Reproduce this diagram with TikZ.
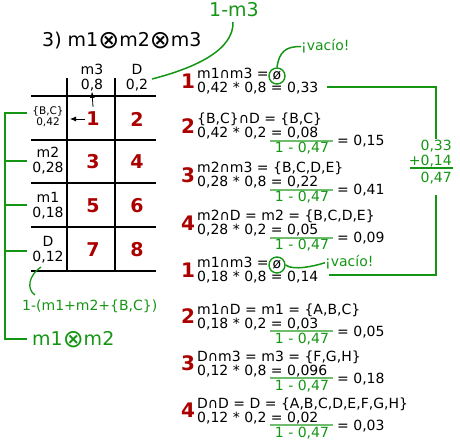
\documentclass[tikz,border=0pt]{standalone}
\usepackage{fontspec}
\setmainfont{DejaVu Sans}
\usetikzlibrary{arrows.meta}
\definecolor{gr}{RGB}{20,150,20}
\definecolor{lgr}{RGB}{110,190,110}
\definecolor{dred}{RGB}{170,0,0}
\newcommand\otbig{\raisebox{-2pt}{\fontsize{25}{25}\selectfont ⊗}}
\tikzset{
 txt/.style={anchor=base west, inner sep=0pt, font=\fontsize{14}{14}\selectfont},
 ctxt/.style={anchor=base, inner sep=0pt, font=\fontsize{14}{14}\selectfont},
 smtxt/.style={anchor=base, inner sep=0pt, font=\fontsize{10.5}{10.5}\selectfont},
 gtxt/.style={anchor=base, inner sep=0pt, text=gr, font=\fontsize{14}{14}\selectfont},
 gbig/.style={anchor=base west, inner sep=0pt, text=gr, font=\fontsize{19}{19}\selectfont},
 big/.style={anchor=base west, inner sep=0pt, font=\fontsize{19}{19}\selectfont},
 rnum/.style={inner sep=0pt, text=dred, font=\fontsize{20}{20}\selectfont\bfseries},
 cnum/.style={inner sep=0pt, text=dred, font=\fontsize{19}{19}\selectfont\bfseries},
 gridline/.style={line width=1.4pt, black},
 gline/.style={gr, line width=1.5pt},
 fracline/.style={lgr, line width=1.3pt},
 ptr/.style={-{Latex[length=6pt,width=5pt]}, line width=0.8pt, black},
 empt/.style={circle, draw=gr, line width=1.4pt, minimum size=16pt, inner sep=0pt, font=\fontsize{14}{14}\selectfont},
}
\begin{document}
\begin{tikzpicture}[x=1pt,y=-1pt]
\useasboundingbox (0,0) rectangle (460,443);
% title
\node[big] (title) at (42,47) {3) m1\otbig m2\otbig m3};
\node[gbig] (onem3) at (209,17) {1-m3};
% table grid
\foreach \yy in {96,140,183,227,271} \draw[gridline] (31,\yy) -- (156,\yy);
\draw[gridline] (67,78) -- (67,271);
\draw[gridline] (115,78) -- (115,271);
% headers
\node[ctxt] (h1) at (92,75) {m3};
\node[ctxt] (h1v) at (92,90) {0,8};
\node[ctxt] (h2) at (137,75) {D};
\node[ctxt] (h2v) at (137,90) {0,2};
% row labels
\node[smtxt] (r1) at (48,115) {\{B,C\}};
\node[smtxt] (r1v) at (48,126) {0,42};
\node[ctxt] (r2) at (48,158) {m2};
\node[ctxt] (r2v) at (48,173) {0,28};
\node[ctxt] (r3) at (48,203) {m1};
\node[ctxt] (r3v) at (48,218) {0,18};
\node[ctxt] (r4) at (48,247) {D};
\node[ctxt] (r4v) at (48,262) {0,12};
% cells
\node[cnum] (c11) at (93,119) {1};
\node[cnum] (c12) at (137,119) {2};
\node[cnum] (c21) at (93,162) {3};
\node[cnum] (c22) at (137,162) {4};
\node[cnum] (c31) at (93,206) {5};
\node[cnum] (c32) at (137,206) {6};
\node[cnum] (c41) at (93,250) {7};
\node[cnum] (c42) at (137,250) {8};
\coordinate (la) at (70,119);
\draw[ptr] ([yshift=5pt]c11.north) -- (h1v.south);
\draw[ptr] ([xshift=-1pt]c11.west) -- (la);
% left bracket
\coordinate (bt) at (5,113);
\coordinate (bb) at (5,339);
\draw[gline] (27,113) -- (bt) -- (bb) -- (27,339);
\foreach \yy in {161,205,251} \draw[gline] (5,\yy) -- (27,\yy);
\node[gtxt, anchor=base west] (rest) at (22,311) {1-(m1+m2+\{B,C\})};
\node[gbig] (m1m2) at (32,345) {m1\otbig m2};
\coordinate (cs) at (41,267);
\coordinate (ce) at (35,295);
\draw[gr, line width=1.3pt] (cs) .. controls (29,275) and (26,289) .. (ce);
% 1-m3 curve
\coordinate (hd) at (152,79);
\draw[gline] (233,22) .. controls (234,50) and (195,68) .. (hd);
% entries
\node[rnum] (n1) at (188,81) {1};
\node[txt] (a1) at (197,79) {m1∩m3 =};
\node[empt] (z1) at (277,76) {ø};
\node[txt] (b1) at (197,93) {0,42 * 0,8 = 0,33};
\node[gtxt, anchor=base west] (v1) at (301,51) {¡vacío!};
\draw[gline] (z1.north) .. controls (279,52) and (286,46) .. (v1.west);

\node[rnum] (n2) at (188,126) {2};
\node[txt] (a2) at (197,124) {\{B,C\}∩D = \{B,C\}};
\node[txt] (b2) at (197,138) {0,42 * 0,2 = 0,08};
\draw[fracline] (270,141) -- (333,141);
\node[gtxt] (d2) at (302,153) {1 - 0,47};
\node[txt] (e2) at (337,146) {= 0,15};

\node[rnum] (n3) at (188,175) {3};
\node[txt] (a3) at (197,173) {m2∩m3 = \{B,C,D,E\}};
\node[txt] (b3) at (197,187) {0,28 * 0,8 = 0,22};
\draw[fracline] (270,190) -- (333,190);
\node[gtxt] (d3) at (302,202) {1 - 0,47};
\node[txt] (e3) at (337,195) {= 0,41};

\node[rnum] (n4) at (188,223) {4};
\node[txt] (a4) at (197,221) {m2∩D = m2 = \{B,C,D,E\}};
\node[txt] (b4) at (197,235) {0,28 * 0,2 = 0,05};
\draw[fracline] (270,238) -- (333,238);
\node[gtxt] (d4) at (302,250) {1 - 0,47};
\node[txt] (e4) at (337,243) {= 0,09};

\node[rnum] (n5) at (188,270) {1};
\node[txt] (a5) at (197,268) {m1∩m3 =};
\node[empt] (z5) at (277,265) {ø};
\node[txt] (b5) at (197,282) {0,18 * 0,8 = 0,14};
\node[gtxt, anchor=base west] (v5) at (325,267) {¡vacío!};
\draw[gline] (z5.east) .. controls (293,271) and (315,266) .. (v5.west);

\node[rnum] (n6) at (188,316) {2};
\node[txt] (a6) at (197,314) {m1∩D = m1 = \{A,B,C\}};
\node[txt] (b6) at (197,328) {0,18 * 0,2 = 0,03};
\draw[fracline] (270,331) -- (333,331);
\node[gtxt] (d6) at (302,343) {1 - 0,47};
\node[txt] (e6) at (337,336) {= 0,05};

\node[rnum] (n7) at (188,363) {3};
\node[txt] (a7) at (197,361) {D∩m3 = m3 = \{F,G,H\}};
\node[txt] (b7) at (197,375) {0,12 * 0,8 = 0,096};
\draw[fracline] (270,378) -- (333,378);
\node[gtxt] (d7) at (302,390) {1 - 0,47};
\node[txt] (e7) at (337,383) {= 0,18};

\node[rnum] (n8) at (188,410) {4};
\node[txt] (a8) at (197,408) {D∩D = D = \{A,B,C,D,E,F,G,H\}};
\node[txt] (b8) at (197,422) {0,12 * 0,2 = 0,02};
\draw[fracline] (270,425) -- (333,425);
\node[gtxt] (d8) at (302,437) {1 - 0,47};
\node[txt] (e8) at (337,430) {= 0,03};
% sum
\node[gtxt, anchor=base east] (s1) at (452,151) {0,33};
\node[gtxt, anchor=base east] (s2) at (452,166) {+0,14};
\node[gtxt, anchor=base east] (s3) at (452,183) {0,47};
\draw[gline] (410,168) -- (453,168);
\coordinate (k1) at (327,87);
\coordinate (k2) at (329,275);
\draw[gline] (k1) -| ([yshift=1pt]s1.north);
\draw[gline] ([yshift=-10pt]s3.south) |- (k2);
\end{tikzpicture}
\end{document}
